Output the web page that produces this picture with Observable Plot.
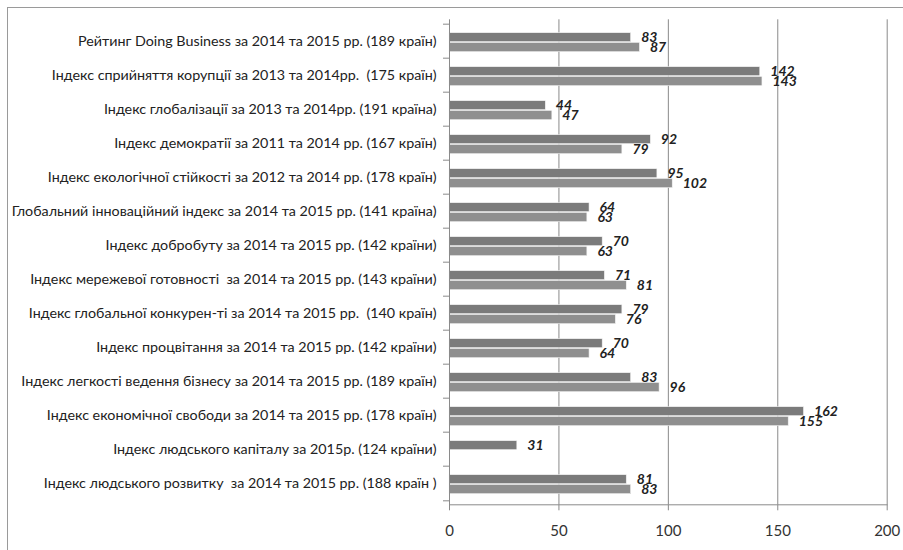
<!DOCTYPE html>
<html><head><meta charset="utf-8">
<script src="https://cdn.jsdelivr.net/npm/d3@7"></script>
<script src="https://cdn.jsdelivr.net/npm/@observablehq/plot@0.6"></script>
<style>
body{margin:0;background:#fff;}
#wrap{position:relative;width:903px;height:550px;overflow:hidden;}
#border{position:absolute;left:7px;top:7px;width:1000px;height:1000px;border-left:1.5px solid #9a9a9a;border-top:1.5px solid #9a9a9a;}
#chart{position:absolute;left:0;top:0;}
</style></head><body>
<div id="wrap"><div id="border"></div><div id="chart"></div></div>
<script>
const categories = [
  "Рейтинг Doing Business за 2014 та 2015 рр. (189 країн)",
  "Індекс сприйняття корупції за 2013 та 2014рр.  (175 країн)",
  "Індекс глобалізації за 2013 та 2014рр. (191 країна)",
  "Індекс демократії за 2011 та 2014 рр. (167 країн)",
  "Індекс екологічної стійкості за 2012 та 2014 рр. (178 країн)",
  "Глобальний інноваційний індекс за 2014 та 2015 рр. (141 країна)",
  "Індекс добробуту за 2014 та 2015 рр. (142 країни)",
  "Індекс мережевої готовності  за 2014 та 2015 рр. (143 країни)",
  "Індекс глобальної конкурен-ті за 2014 та 2015 рр.  (140 країн)",
  "Індекс процвітання за 2014 та 2015 рр. (142 країни)",
  "Індекс легкості ведення бізнесу за 2014 та 2015 рр. (189 країн)",
  "Індекс економічної свободи за 2014 та 2015 рр. (178 країн)",
  "Індекс людського капіталу за 2015р. (124 країни)",
  "Індекс людського розвитку  за 2014 та 2015 рр. (188 країн )"
];
const firstValues  = [83, 142, 44, 92, 95, 64, 70, 71, 79, 70, 83, 162, 31, 81];
const secondValues = [87, 143, 47, 79, 102, 63, 63, 81, 76, 64, 96, 155, null, 83];
const xTicks = [0, 50, 100, 150, 200];

const rows1 = categories.map((c, i) => ({category: c, value: firstValues[i]}));
const rows2 = categories.map((c, i) => ({category: c, value: secondValues[i]})).filter(d => d.value != null);

const W = 903, H = 550, mTop = 19.3, mBottom = 45.7, mLeft = 449, mRight = 16.3;
const band = (H - mTop - mBottom) / categories.length;
const gridColor = "#8a8a8a";

const chart = Plot.plot({
  width: W, height: H,
  marginTop: mTop, marginBottom: mBottom, marginLeft: mLeft, marginRight: mRight,
  style: {fontFamily: "Lato, 'Open Sans', sans-serif", background: "transparent", overflow: "visible"},
  x: {domain: [0, 200]},
  y: {domain: categories, padding: 0},
  marks: [
    Plot.ruleX(xTicks.slice(1), {stroke: gridColor, strokeWidth: 1}),
    Plot.barX(rows1, {x: "value", y: "category", fill: "#7b7b7b", insetTop: 8.7, insetBottom: 16.3, stroke: "#f4f4f4", strokeWidth: 0.6}),
    Plot.barX(rows2, {x: "value", y: "category", fill: "#8f8f8f", insetTop: 18.4, insetBottom: 6.3, stroke: "#f4f4f4", strokeWidth: 0.6}),
    Plot.frame({anchor: "left", stroke: gridColor}),
    Plot.frame({anchor: "bottom", stroke: gridColor}),
    Plot.axisX({ticks: xTicks, tickSize: 6, tickPadding: 15, fontSize: 15, stroke: gridColor, fill: "#333", label: null}),
    Plot.axisY({ticks: categories, tickSize: 6, dy: -band / 2, tickFormat: () => "", stroke: gridColor, label: null}),
    Plot.axisY({ticks: [categories[categories.length - 1]], tickSize: 6, dy: band / 2, tickFormat: () => "", stroke: gridColor, label: null}),
    Plot.axisY({tickSize: 0, tickPadding: 13, fontSize: 14.3, fill: "#222", label: null}),
    Plot.text(rows1, {x: "value", y: "category", text: d => String(d.value), dx: 10, dy: -3.8, textAnchor: "start", fontWeight: "bold", fontStyle: "italic", fontSize: 14, fill: "#222"}),
    Plot.text(rows2, {x: "value", y: "category", text: d => String(d.value), dx: 10, dy: 6, textAnchor: "start", fontWeight: "bold", fontStyle: "italic", fontSize: 14, fill: "#222"})
  ]
});
document.getElementById("chart").appendChild(chart);
</script>
</body></html>
